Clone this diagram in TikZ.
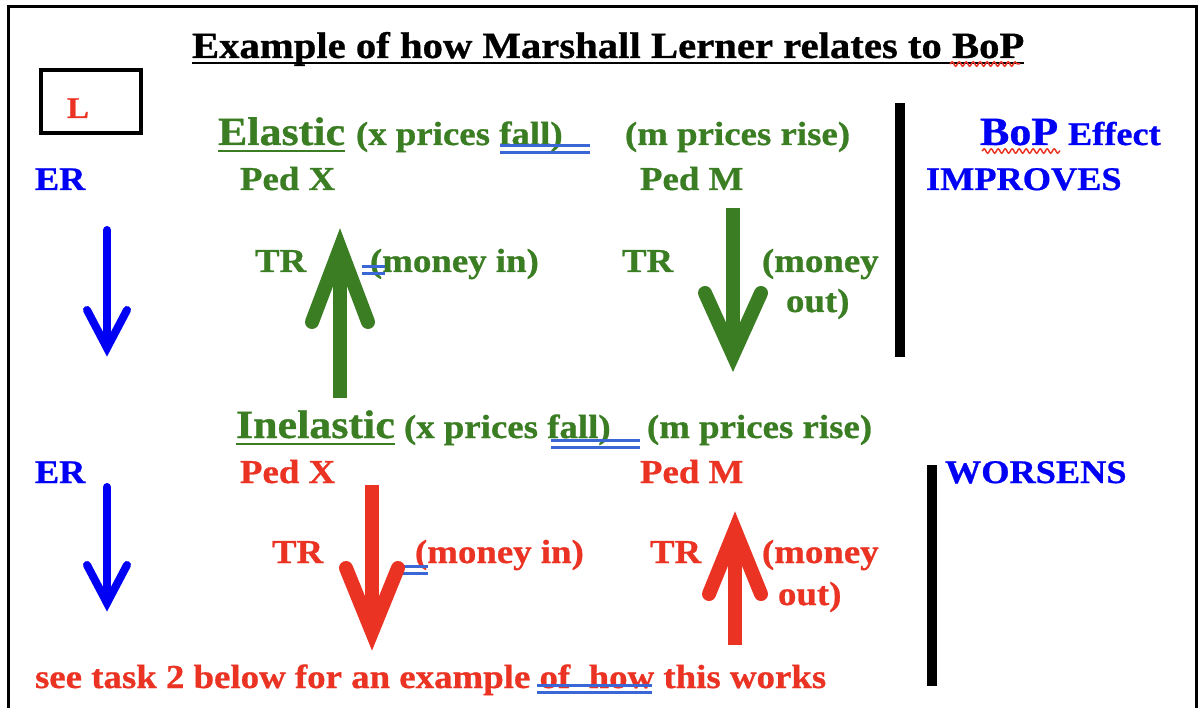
\documentclass[tikz,border=0pt]{standalone}
\usepackage{fontspec}
\setmainfont{Liberation Serif Bold}[FakeStretch=1.1,FakeBold=0.8]
\usetikzlibrary{decorations.pathmorphing}
\definecolor{grn}{RGB}{58,125,35}
\definecolor{rd}{RGB}{234,51,35}
\definecolor{bl}{RGB}{0,0,245}
\definecolor{gram}{RGB}{58,102,214}
\newcommand\fz[1]{\fontsize{#1}{#1}\selectfont}
\tikzset{
  txt/.style={anchor=base west,inner sep=0pt,outer sep=0pt},
  body/.style={txt,font=\fz{33.5}},
  big/.style={txt,font=\fz{40}},
  bar/.style={line width=10pt},
  fatarrow/.style={line width=14pt,line cap=round,line join=miter,miter limit=20},
  thinarrow/.style={line width=8pt,line cap=round,line join=miter,miter limit=20},
  gline/.style={gram,line width=3pt},
  wavy/.style={rd,line width=1.5pt,decorate,decoration={snake,amplitude=2.2pt,segment length=7pt}}
}
\begin{document}
\begin{tikzpicture}[x=1pt,y=-1pt]
\useasboundingbox (0,0) rectangle (1199,708);
% frame
\draw[line width=3pt] (8,708) -- (8,7) -- (1196,7) -- (1196,708);
% title
\node[txt,font=\fz{37}] (title) at (192,58) {Example of how Marshall Lerner relates to BoP};
\draw[line width=2.5pt] ([yshift=-5pt]title.base west) -- ([yshift=-5pt]title.base east);
\draw[wavy] (950,64) -- (1020,64);
% L box
\node[draw,line width=3.2pt,minimum width=100pt,minimum height=63pt,inner sep=0pt] (lbox) at (91,101.5) {};
\node[txt,font=\fz{30},text=rd,anchor=base] (L) at (78,118) {L};
% upper half
\node[big,text=grn] (el) at (218,145) {Elastic};
\draw[grn,line width=2.5pt] ([yshift=-6pt]el.base west) -- ([yshift=-6pt]el.base east);
\node[body,text=grn] (xp1) at (356,145) {(x prices fall)};
\node[body,text=grn] (mp1) at (625,145) {(m prices rise)};
\draw[gline] (500,146) -- (590,146) (500,153) -- (590,153);
\node[txt,font=\fz{40},text=bl] (bop) at (980,145) {BoP};
\node[txt,font=\fz{33},text=bl] (eff) at (1068,145) {Effect};
\draw[wavy] (982,151) -- (1060,151);
\node[txt,font=\fz{33},text=bl] (er1) at (35,190) {ER};
\node[body,text=grn] (pedx1) at (240,190) {Ped X};
\node[body,text=grn] (pedm1) at (640,190) {Ped M};
\node[txt,font=\fz{33},text=bl] (imp) at (926,190) {IMPROVES};
\node[body,text=grn] (tr1) at (255,272) {TR};
\node[body,text=grn] (mi1) at (370,272) {(money in)};
\draw[gline] (362,267) -- (385,267) (362,274) -- (385,274);
\node[body,text=grn] (tr2) at (622,272) {TR};
\node[body,text=grn] (mo1) at (762,272) {(money};
\node[body,text=grn] (mo1b) at (786,312) {out)};
% bars
\coordinate (b1t) at (900,103); \coordinate (b1b) at (900,357);
\draw[bar] (b1t) -- (b1b);
\coordinate (b2t) at (932,465); \coordinate (b2b) at (932,686);
\draw[bar] (b2t) -- (b2b);
% blue arrows (down)
\coordinate (ba1s) at (107,230); \coordinate (ba1t) at (107,348);
\draw[bl,thinarrow] (ba1s) -- (ba1t);
\draw[bl,thinarrow] ([xshift=-20pt,yshift=38pt]ba1t) -- (ba1t) -- ([xshift=20pt,yshift=38pt]ba1t);
\coordinate (ba2s) at (107,487); \coordinate (ba2t) at (107,603);
\draw[bl,thinarrow] (ba2s) -- (ba2t);
\draw[bl,thinarrow] ([xshift=-20pt,yshift=38pt]ba2t) -- (ba2t) -- ([xshift=20pt,yshift=38pt]ba2t);
% green arrows
\coordinate (ga1s) at (340,398); \coordinate (ga1t) at (340,248);
\draw[grn,line width=14pt] (ga1s) -- (ga1t);
\draw[grn,fatarrow] ([xshift=-28pt,yshift=-74pt]ga1t) -- (ga1t) -- ([xshift=28pt,yshift=-74pt]ga1t);
\coordinate (ga2s) at (733,208); \coordinate (ga2t) at (733,355);
\draw[grn,line width=14pt] (ga2s) -- (ga2t);
\draw[grn,fatarrow] ([xshift=-28pt,yshift=62pt]ga2t) -- (ga2t) -- ([xshift=28pt,yshift=62pt]ga2t);
% lower half
\node[big,text=grn] (inel) at (236,438) {Inelastic};
\draw[grn,line width=2.5pt] ([yshift=-6pt]inel.base west) -- ([yshift=-6pt]inel.base east);
\node[body,text=grn] (xp2) at (404,438) {(x prices fall)};
\node[body,text=grn] (mp2) at (647,438) {(m prices rise)};
\draw[gline] (551,440) -- (640,440) (551,447) -- (640,447);
\node[txt,font=\fz{33},text=bl] (er2) at (35,483) {ER};
\node[body,text=rd] (pedx2) at (240,483) {Ped X};
\node[body,text=rd] (pedm2) at (640,483) {Ped M};
\node[txt,font=\fz{33},text=bl] (wor) at (945,483) {WORSENS};
\node[body,text=rd] (tr3) at (272,563) {TR};
\node[body,text=rd] (mi2) at (415,563) {(money in)};
\draw[gline] (392,566) -- (428,566) (392,573) -- (428,573);
\node[body,text=rd] (tr4) at (650,563) {TR};
\node[body,text=rd] (mo2) at (762,563) {(money};
\node[body,text=rd] (mo2b) at (778,605) {out)};
% red arrows
\coordinate (ra1s) at (372,485); \coordinate (ra1t) at (372,632);
\draw[rd,line width=14pt] (ra1s) -- (ra1t);
\draw[rd,fatarrow] ([xshift=-26pt,yshift=64pt]ra1t) -- (ra1t) -- ([xshift=26pt,yshift=64pt]ra1t);
\coordinate (ra2s) at (735,645); \coordinate (ra2t) at (735,530);
\draw[rd,line width=14pt] (ra2s) -- (ra2t);
\draw[rd,fatarrow] ([xshift=-26pt,yshift=-64pt]ra2t) -- (ra2t) -- ([xshift=26pt,yshift=-64pt]ra2t);
% bottom line
\node[body,text=rd] (see) at (35,688) {see task 2 below for an example of\ \ how this works};
\draw[gline] (537,685) -- (652,685) (537,692) -- (652,692);
\end{tikzpicture}
\end{document}
